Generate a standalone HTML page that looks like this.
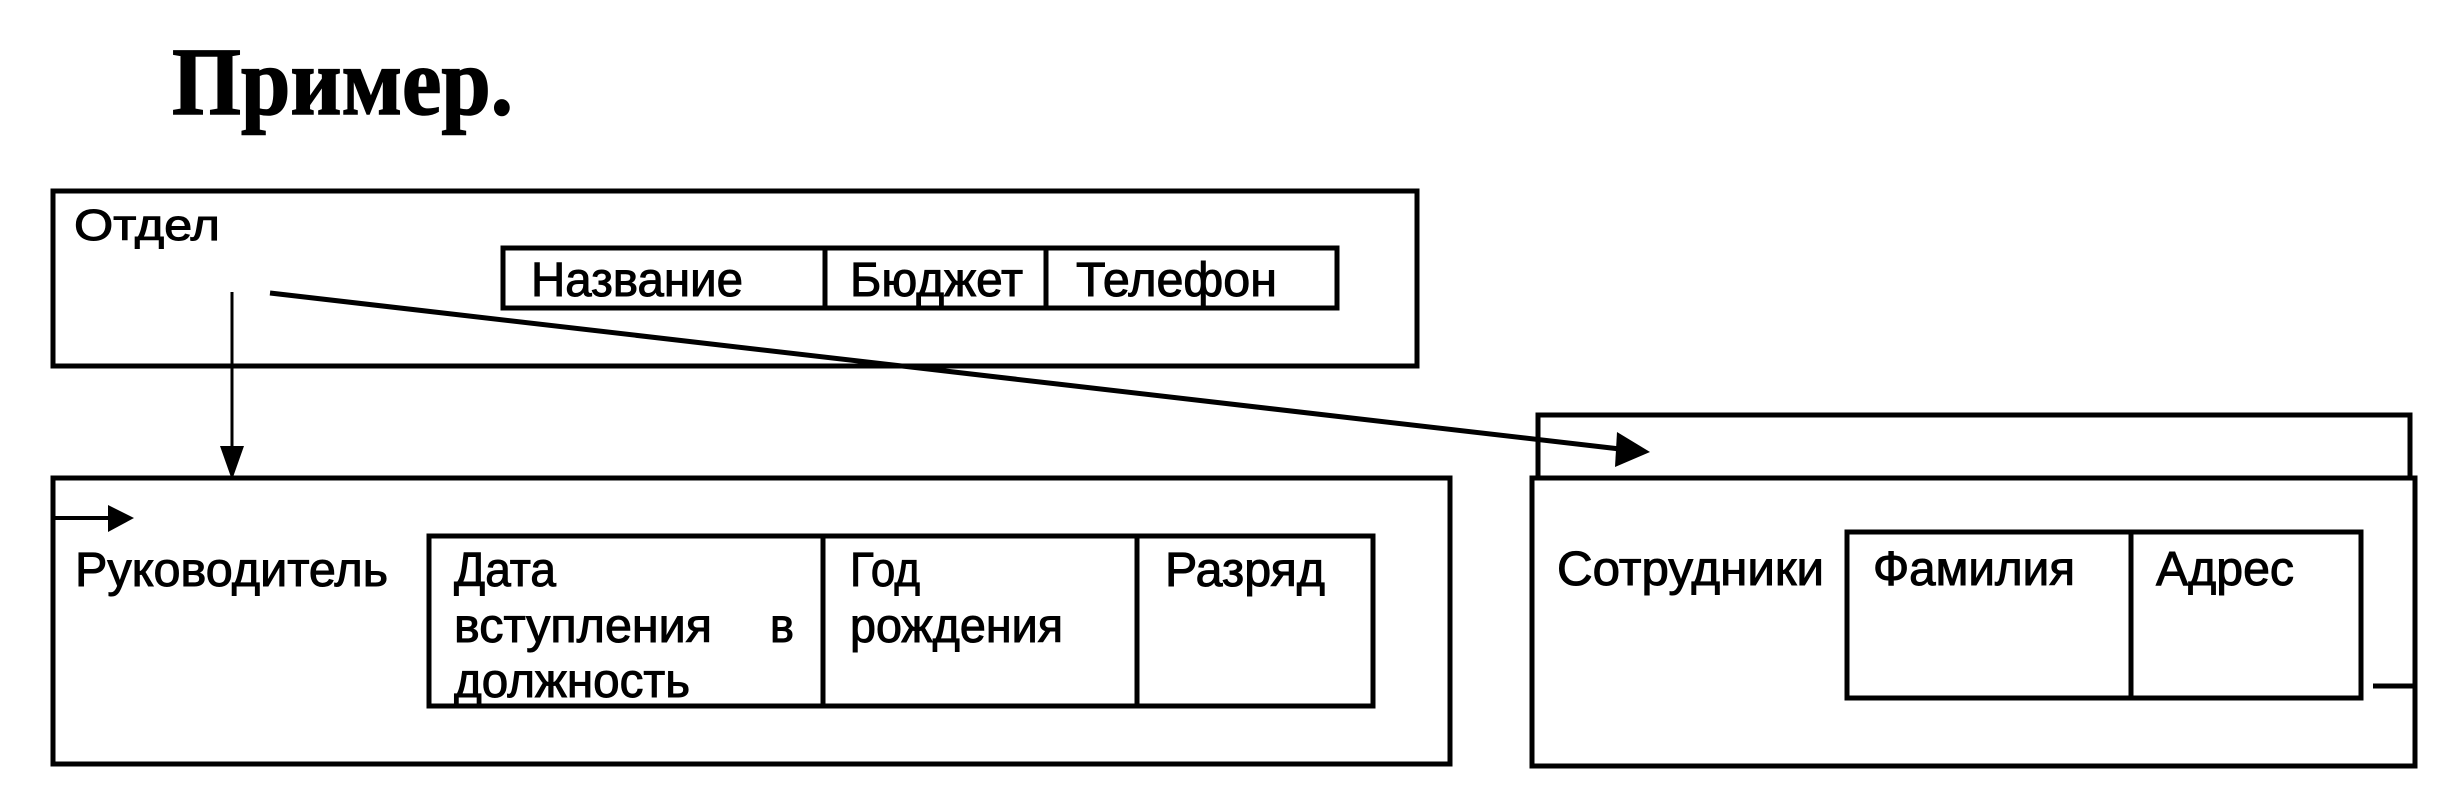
<!DOCTYPE html>
<html><head><meta charset="utf-8"><style>
html,body{margin:0;padding:0;background:#fff;}
svg{display:block;}
text{font-family:"Liberation Sans",sans-serif;fill:#000;stroke:#000;stroke-width:1px;}
.t{font-family:"Liberation Serif",serif;font-weight:bold;stroke-width:1.5px;}
</style></head><body>
<svg width="2463" height="810" viewBox="0 0 2463 810" xmlns="http://www.w3.org/2000/svg">
<g fill="none" stroke="#000" stroke-width="5">
<rect x="53" y="191" width="1364" height="175"/>
<rect x="503" y="248" width="834" height="60"/>
<line x1="825" y1="248" x2="825" y2="308"/>
<line x1="1046" y1="248" x2="1046" y2="308"/>
<rect x="53" y="478" width="1397" height="286"/>
<rect x="429" y="536" width="944" height="170"/>
<line x1="823" y1="536" x2="823" y2="706"/>
<line x1="1137" y1="536" x2="1137" y2="706"/>
<rect x="1538" y="415" width="872" height="63"/>
<rect x="1532" y="478" width="883" height="288"/>
<rect x="1847" y="532" width="514" height="166"/>
<line x1="2131" y1="532" x2="2131" y2="698"/>
<line x1="2373" y1="686" x2="2415" y2="686" stroke-width="5"/>
<line x1="232" y1="292" x2="232" y2="450" stroke-width="3"/>
<line x1="270" y1="293" x2="1620" y2="449" stroke-width="5"/>
<line x1="53" y1="518" x2="110" y2="518" stroke-width="4"/>
</g>
<polygon points="220,446 244,446 232,480" fill="#000"/>
<polygon points="1617,432 1650,452 1615,467" fill="#000"/>
<polygon points="108,505 134,518 108,532" fill="#000"/>
<text class="t" x="172" y="114" font-size="96" textLength="341" lengthAdjust="spacingAndGlyphs">Пример.</text>
<text x="74" y="240" font-size="44" textLength="146" lengthAdjust="spacingAndGlyphs">Отдел</text>
<text x="531" y="296" font-size="48" textLength="212" lengthAdjust="spacingAndGlyphs">Название</text>
<text x="850" y="296" font-size="48" textLength="173" lengthAdjust="spacingAndGlyphs">Бюджет</text>
<text x="1076" y="296" font-size="48" textLength="201" lengthAdjust="spacingAndGlyphs">Телефон</text>
<text x="75" y="586" font-size="48" textLength="313" lengthAdjust="spacingAndGlyphs">Руководитель</text>
<text x="454" y="586" font-size="48" textLength="102" lengthAdjust="spacingAndGlyphs">Дата</text>
<text x="454" y="642" font-size="48" textLength="258" lengthAdjust="spacingAndGlyphs">вступления</text>
<text x="770" y="642" font-size="48" textLength="24" lengthAdjust="spacingAndGlyphs">в</text>
<text x="454" y="697" font-size="48" textLength="236" lengthAdjust="spacingAndGlyphs">должность</text>
<text x="850" y="586" font-size="48" textLength="70" lengthAdjust="spacingAndGlyphs">Год</text>
<text x="850" y="642" font-size="48" textLength="213" lengthAdjust="spacingAndGlyphs">рождения</text>
<text x="1165" y="586" font-size="48" textLength="160" lengthAdjust="spacingAndGlyphs">Разряд</text>
<text x="1557" y="585" font-size="48" textLength="267" lengthAdjust="spacingAndGlyphs">Сотрудники</text>
<text x="1873" y="585" font-size="48" textLength="202" lengthAdjust="spacingAndGlyphs">Фамилия</text>
<text x="2156" y="585" font-size="48" textLength="138" lengthAdjust="spacingAndGlyphs">Адрес</text>
</svg>
</body></html>
